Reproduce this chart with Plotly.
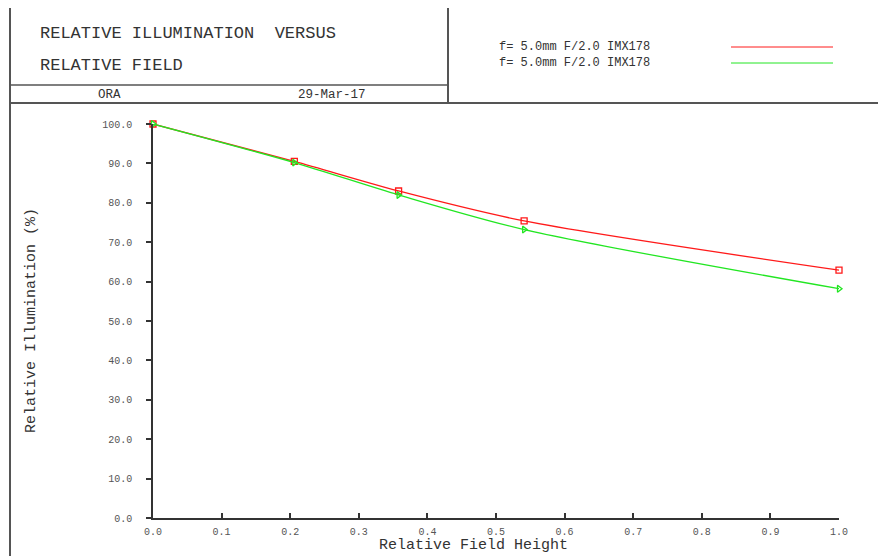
import plotly.graph_objects as go

# ---- data ----
field = [0.0, 0.206, 0.358, 0.541, 1.0]
ri_red = [100.0, 90.5, 83.0, 75.4, 62.9]
ri_green = [100.0, 90.2, 82.0, 73.2, 58.2]
series_names = ["f= 5.0mm F/2.0 IMX178", "f= 5.0mm F/2.0 IMX178"]
title_lines = ["RELATIVE ILLUMINATION  VERSUS", "RELATIVE FIELD"]
org_label = "ORA"
date_label = "29-Mar-17"
x_title = "Relative Field Height"
y_title = "Relative Illumination (%)"

OFF = 8  # page body margin offset
W, H = 886, 556
L, R, T, B = 153 - OFF, 839 - OFF, 124 - OFF, 518 - OFF  # plot area in figure pixels

def px(x):
    return (x - OFF - L) / (R - L)

def py(y):
    return (B - (y - OFF)) / (B - T)

FONT = "Liberation Mono, Courier New, monospace"

fig = go.Figure()
fig.add_trace(go.Scatter(
    x=field, y=ri_red, mode="lines+markers", name=series_names[0],
    line=dict(color="#ff1a1a", width=1.3, shape="spline", smoothing=0.8),
    marker=dict(symbol="square-open", size=6, color="#ff1a1a", line=dict(width=1.3)),
    cliponaxis=False, showlegend=False))
fig.add_trace(go.Scatter(
    x=field, y=ri_green, mode="lines+markers", name=series_names[1],
    line=dict(color="#22e622", width=1.3, shape="spline", smoothing=0.8),
    marker=dict(symbol="triangle-right-open", size=6, color="#22e622", line=dict(width=1.3)),
    cliponaxis=False, showlegend=False))

frame = "#555555"
shapes = []
def line(x0, y0, x1, y1, color=frame, width=2):
    shapes.append(dict(type="line", xref="paper", yref="paper",
                       x0=px(x0), y0=py(y0), x1=px(x1), y1=py(y1),
                       line=dict(color=color, width=width), layer="above"))

# outer frame (reference screen pixels)
line(10, 5, 890, 5)
line(10, 5, 10, 560)
line(10, 103, 890, 103)
line(10, 85, 448, 85, width=1.5)
line(448, 5, 448, 103)
# legend samples
line(731, 47, 833, 47, color="#ff1a1a", width=1)
line(731, 63, 833, 63, color="#22e622", width=1)

annotations = []
def text(x, y, s, size, anchor="left", color="#333333", angle=0):
    annotations.append(dict(xref="paper", yref="paper", x=px(x), y=py(y), text=s,
                            showarrow=False, xanchor=anchor, yanchor="middle", textangle=angle,
                            font=dict(family=FONT, size=size, color=color)))

text(38, 33, title_lines[0], 17)
text(38, 65, title_lines[1], 17)
text(109, 95, org_label, 12.5, anchor="center")
text(332, 95, date_label, 12.5, anchor="center")
text(497, 47, series_names[0], 12)
text(497, 63, series_names[1], 12)
text(473, 545, x_title, 15, anchor="center")
text(31, 321, y_title, 15, anchor="center", angle=-90)

fig.update_layout(
    width=W, height=H,
    margin=dict(l=L, r=W - R, t=T, b=H - B),
    paper_bgcolor="white", plot_bgcolor="white",
    shapes=shapes, annotations=annotations,
    xaxis=dict(range=[0, 1], dtick=0.1, tickformat=".1f", showgrid=False, zeroline=False,
               showline=True, linecolor="#333333", linewidth=1.5,
               ticks="inside", ticklen=5, tickcolor="#333333", tickwidth=1.5,
               ticklabelstandoff=3,
               tickfont=dict(family=FONT, size=10, color="#555555")),
    yaxis=dict(range=[0, 100], dtick=10, tickformat=".1f", showgrid=False, zeroline=False,
               showline=True, linecolor="#333333", linewidth=1.5,
               ticks="outside", ticklen=5, tickcolor="#333333", tickwidth=1.5,
               ticklabelstandoff=12,
               tickfont=dict(family=FONT, size=10, color="#555555")),
)

fig.write_html("out.html")
